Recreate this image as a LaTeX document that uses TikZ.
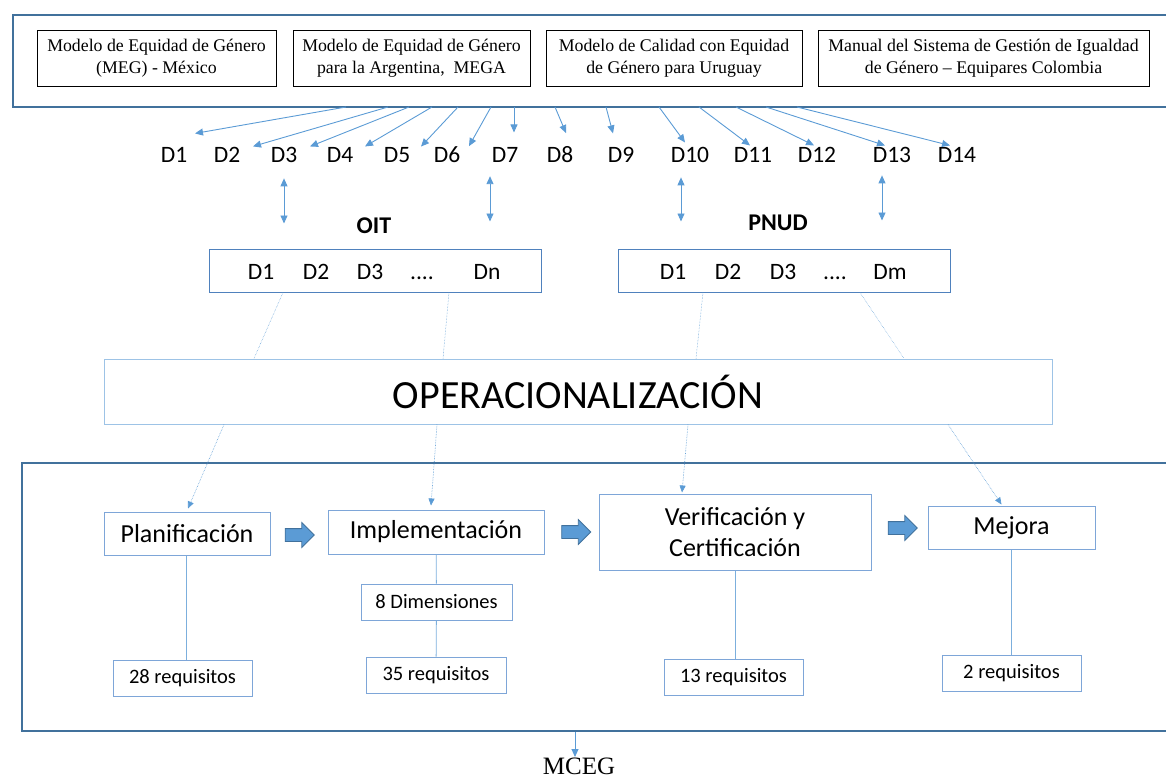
\documentclass[tikz,border=0pt]{standalone}
\usepackage{fontspec}
\setmainfont{Liberation Serif}
\newfontfamily\cali{Carlito}
\usetikzlibrary{arrows.meta,shapes.arrows}
\definecolor{frameblue}{HTML}{41719C}
\definecolor{boxblue}{HTML}{4F81BD}
\definecolor{lightblue}{HTML}{7EA6D8}
\definecolor{paleblue}{HTML}{9DC3E6}
\definecolor{arrowblue}{HTML}{5B9BD5}

\begin{document}
\begin{tikzpicture}[x=1pt,y=-1pt]

\tikzset{
  frame/.style={draw=frameblue,line width=2pt,inner sep=0pt},
  model/.style={draw=black,line width=0.8pt,inner sep=0pt,align=center,font=\fontsize{17.8}{22}\selectfont},
  dim/.style={inner sep=0pt,anchor=base,font=\cali\fontsize{23.5}{26}\selectfont},
  org/.style={inner sep=0pt,font=\cali\bfseries\fontsize{24}{26}\selectfont},
  dimbox/.style={draw=boxblue,line width=1pt,inner sep=0pt,minimum width=332pt,minimum height=43pt},
  phase/.style={draw=lightblue,line width=1pt,inner sep=0pt,align=center,font=\cali\fontsize{26}{31}\selectfont},
  req/.style={draw=lightblue,line width=1pt,inner sep=0pt,minimum width=139pt,minimum height=36pt,font=\cali\fontsize{20.5}{24}\selectfont},
  arr/.style={draw=arrowblue,line width=0.9pt,-{Triangle[length=8pt,width=7pt]}},
  darr/.style={draw=arrowblue,line width=0.9pt,{Triangle[length=8pt,width=7pt]}-{Triangle[length=8pt,width=7pt]}},
  thinlink/.style={draw=arrowblue,line width=0.5pt,densely dotted},
  dotarr/.style={draw=arrowblue,line width=0.6pt,densely dotted,-{Triangle[length=7pt,width=6pt]}},
  link/.style={draw=arrowblue!80,line width=0.8pt},
  block/.style={single arrow,draw=frameblue,fill=arrowblue,line width=0.8pt,minimum height=29pt,inner xsep=0pt,inner ysep=6pt,single arrow head extend=6pt}
}

  \useasboundingbox (0,0) rectangle (1166,778);

  % models
  \node[frame,minimum width=1170pt,minimum height=92pt] (models) at (598,61) {};
  \node[model,minimum width=239pt,minimum height=56pt] (meg) at (156.5,58) {Modelo de Equidad de Género\\(MEG) - México};
  \node[model,minimum width=237pt,minimum height=56pt] (mega) at (411.5,58) {Modelo de Equidad de Género\\para la Argentina,\ \ MEGA};
  \node[model,minimum width=256pt,minimum height=56pt] (uru) at (674,58) {Modelo de Calidad con Equidad\\de Género para Uruguay};
  \node[model,minimum width=331pt,minimum height=56pt] (col) at (983.5,58) {Manual del Sistema de Gestión de Igualdad\\de Género -- Equipares Colombia};

  % dimensions
  \node[dim] (d1) at (174,163) {D1};
  \node[dim] (d2) at (227,163) {D2};
  \node[dim] (d3) at (284,163) {D3};
  \node[dim] (d4) at (340,163) {D4};
  \node[dim] (d5) at (397,163) {D5};
  \node[dim] (d6) at (447,163) {D6};
  \node[dim] (d7) at (505,163) {D7};
  \node[dim] (d8) at (560,163) {D8};
  \node[dim] (d9) at (621,163) {D9};
  \node[dim] (d10) at (690,163) {D10};
  \node[dim] (d11) at (753,163) {D11};
  \node[dim] (d12) at (817,163) {D12};
  \node[dim] (d13) at (892,163) {D13};
  \node[dim] (d14) at (957,163) {D14};

  \coordinate (m1) at (346,107);
  \coordinate (m2) at (388,107);
  \coordinate (m3) at (409,107);
  \coordinate (m4) at (432,107);
  \coordinate (m5) at (458,107);
  \coordinate (m6) at (491,107);
  \coordinate (m7) at (514,107);
  \coordinate (m8) at (555,107);
  \coordinate (m9) at (606,107);
  \coordinate (m10) at (659,107);
  \coordinate (m11) at (699,107);
  \coordinate (m12) at (736,107);
  \coordinate (m13) at (766,107);
  \coordinate (m14) at (797,107);

  \draw[arr] (m1) -- ([shift={(21,-22)}]d1.center);
  \draw[arr] (m2) -- ([shift={(26,-9)}]d2.center);
  \draw[arr] (m3) -- ([shift={(26,-9)}]d3.center);
  \draw[arr] (m4) -- ([shift={(25,-9)}]d4.center);
  \draw[arr] (m5) -- ([shift={(24,-9)}]d5.center);
  \draw[arr] (m6) -- ([shift={(22,-9)}]d6.center);
  \draw[arr] (m7) -- ([shift={(9,-23)}]d7.center);
  \draw[arr] (m8) -- ([shift={(6,-22)}]d8.center);
  \draw[arr] (m9) -- ([shift={(-8,-22)}]d9.center);
  \draw[arr] (m10) -- ([shift={(-5,-13)}]d10.center);
  \draw[arr] (m11) -- ([shift={(-3,-10)}]d11.center);
  \draw[arr] (m12) -- ([shift={(-3,-10)}]d12.center);
  \draw[arr] (m13) -- ([shift={(-7,-10)}]d13.center);
  \draw[arr] (m14) -- ([shift={(-7,-10)}]d14.center);

  % OIT and PNUD
  \node[org] (oit) at (374,226) {OIT};
  \node[org] (pnud) at (778,223) {PNUD};

  \node[dimbox] (oitbox) at (375,270.5) {};
  \node[dim] (o1) at (261,279) {D1};
  \node[dim] (o2) at (316,279) {D2};
  \node[dim] (o3) at (370,279) {D3};
  \node[dim] (o4) at (422,279) {....};
  \node[dim] (on) at (487,279) {Dn};

  \node[dimbox] (pnudbox) at (784,270.5) {};
  \node[dim] (p1) at (673,279) {D1};
  \node[dim] (p2) at (728,279) {D2};
  \node[dim] (p3) at (783,279) {D3};
  \node[dim] (p4) at (835,279) {....};
  \node[dim] (pm) at (890,279) {Dm};

  \draw[darr] ([shift={(0,15)}]d3.south) -- ([shift={(0,-25)}]d3.south |- oitbox.north);
  \draw[darr] ([shift={(-15,13)}]d7.south) -- ([shift={(-15,-27)}]d7.south |- oitbox.north);
  \draw[darr] ([shift={(-9,14)}]d10.south) -- ([shift={(-9,-27)}]d10.south |- pnudbox.north);
  \draw[darr] ([shift={(-10,12)}]d13.south) -- ([shift={(-10,-28)}]d13.south |- pnudbox.north);

  % operacionalizacion
  \node[draw=paleblue,line width=1pt,inner sep=0pt,minimum width=948pt,minimum height=65pt,font=\cali\fontsize{40}{44}\selectfont] (oper) at (578,391.5) {OPERACIONALIZACIÓN};

  \draw[thinlink] ([shift={(-92,0)}]oitbox.south) -- ([shift={(-324,0)}]oper.north);
  \draw[thinlink] ([shift={(74,0)}]oitbox.south) -- ([shift={(-135,0)}]oper.north);
  \draw[thinlink] ([shift={(-81,0)}]pnudbox.south) -- ([shift={(118,0)}]oper.north);
  \draw[thinlink] ([shift={(76,0)}]pnudbox.south) -- ([shift={(326,0)}]oper.north);

  % phases
  \node[frame,minimum width=1160pt,minimum height=268pt] (phases) at (602,597) {};

  \node[phase,minimum width=166pt,minimum height=43pt] (plan) at (187,533.5) {Planificación};
  \node[phase,minimum width=216pt,minimum height=44pt] (impl) at (436,532) {Implementación};
  \node[phase,minimum width=272pt,minimum height=76pt] (verif) at (735,532) {Verificación y\\Certificación};
  \node[phase,minimum width=167pt,minimum height=43pt] (mejora) at (1011.5,527.5) {Mejora};

  \draw[dotarr] ([shift={(-354,0)}]oper.south) -- ([shift={(1,-3)}]plan.north);
  \draw[dotarr] ([shift={(-141,0)}]oper.south) -- ([shift={(-5,-4)}]impl.north);
  \draw[dotarr] ([shift={(110,0)}]oper.south) -- ([shift={(-53,-1)}]verif.north);
  \draw[dotarr] ([shift={(370,0)}]oper.south) -- ([shift={(-10,-1)}]mejora.north);

  \node[block] (b1) at (296.5,535) {};
  \node[block] (b2) at (573,532) {};
  \node[block] (b3) at (899.5,528) {};

  \node[req,minimum width=151pt] (dims) at (436.5,602) {8 Dimensiones};
  \node[req] (r28) at (182.5,678) {28 requisitos};
  \node[req,minimum width=140pt] (r35) at (436,675) {35 requisitos};
  \node[req] (r13) at (733.5,677) {13 requisitos};
  \node[req] (r2) at (1011.5,673) {2 requisitos};

  \draw[link] ([shift={(-1,0)}]plan.south) -- ([shift={(-1,0)}]plan.south |- r28.north);
  \draw[link] (impl) -- (dims);
  \draw[link] (dims) -- (r35);
  \draw[link] (verif.south) -- (verif.south |- r13.north);
  \draw[link] (mejora) -- (r2);

  % result
  \node[inner sep=0pt,anchor=north,font=\fontsize{25}{27}\selectfont] (mceg) at (579,758) {MCEG};
  \draw[arr] ([shift={(-4,0)}]phases.south -| mceg.north) -- ([shift={(-4,-1)}]mceg.north);

\end{tikzpicture}
\end{document}
